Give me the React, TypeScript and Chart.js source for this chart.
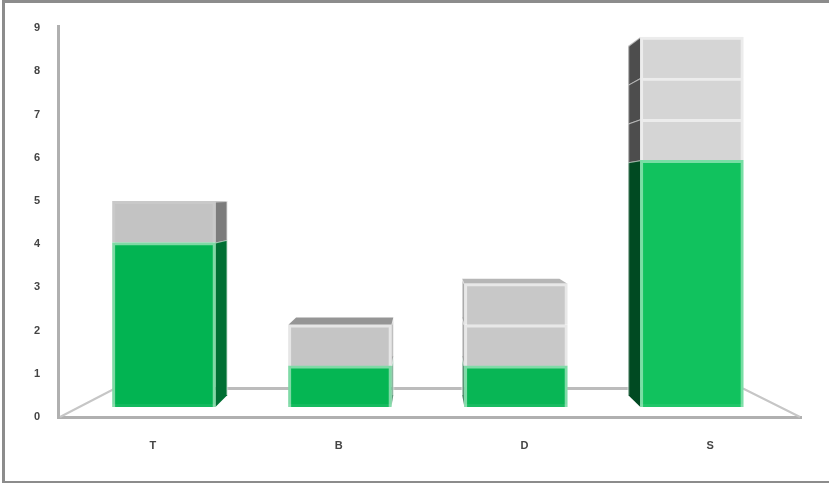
import React, { useEffect, useRef } from "react";
import { Chart, registerables } from "chart.js";

Chart.register(...registerables);

const categories = ["T", "B", "D", "S"];
const yTickValues = [0, 1, 2, 3, 4, 5, 6, 7, 8, 9];

// Stacked units per category: one green block, then up to three grey blocks.
const greenValues = [4, 1, 1, 6];
const greyLayer1 = [1, 1, 1, 1];
const greyLayer2 = [null, null, 1, 1];
const greyLayer3 = [null, null, null, 1];

const greenFront = ["#02b452", "#05b653", "#08b655", "#11c25e"];
const greenEdge = ["#7fd9a5", "#7fdaa6", "#80dba8", "#78dea4"];
const greenSide = ["#006f33", "#5f9c7c", "#4f8c6c", "#004a22"];
const greyFront = ["#c3c3c3", "#c5c5c5", "#c8c8c8", "#d5d5d5"];
const greyEdge = ["#c9c9c9", "#e6e6e6", "#e8e8e8", "#ececec"];
const greySide = ["#7c7c7c", "#a8a8a8", "#a4a4a4", "#4d4d4d"];
const greyTop = ["#a0a0a0", "#959595", "#b6b6b6", "#bbbbbb"];

// Perspective: every box edge recedes towards one vanishing point.
const VANISH_X = 425;
const VANISH_Y = 195;
const DEPTH = 0.056;

const recede = (x: number, y: number): [number, number] => [
  x + (VANISH_X - x) * DEPTH,
  y + (VANISH_Y - y) * DEPTH,
];

const polygon = (ctx: CanvasRenderingContext2D, pts: [number, number][], fill: string) => {
  ctx.beginPath();
  pts.forEach(([x, y], i) => (i ? ctx.lineTo(x, y) : ctx.moveTo(x, y)));
  ctx.closePath();
  ctx.fillStyle = fill;
  ctx.fill();
};

const stroke = (ctx: CanvasRenderingContext2D, a: [number, number], b: [number, number], color: string, width: number) => {
  ctx.beginPath();
  ctx.moveTo(a[0], a[1]);
  ctx.lineTo(b[0], b[1]);
  ctx.strokeStyle = color;
  ctx.lineWidth = width;
  ctx.stroke();
};

const boxes3d = {
  id: "boxes3d",
  beforeDatasetsDraw(chart: any) {
    const { ctx, chartArea } = chart;
    ctx.save();

    // Floor outline behind the columns
    const floorLeft = chartArea.left + 1;
    const floorRight = chartArea.right - 1;
    const floorBack = chartArea.bottom - 28.5;
    stroke(ctx, [floorLeft + 1, chartArea.bottom], [floorLeft + 56, floorBack], "#c6c6c6", 2);
    stroke(ctx, [floorRight, chartArea.bottom], [floorRight - 57, floorBack], "#c6c6c6", 2);
    stroke(ctx, [floorLeft + 56, floorBack], [floorRight - 57, floorBack], "#bcbcbc", 3);

    const { datasets } = chart.data;
    const hasValue = (d: number, j: number) => d < datasets.length && datasets[d].data[j].y !== null;
    datasets.forEach((_: any, d: number) => {
      chart.getDatasetMeta(d).data.forEach((bar: any, j: number) => {
        if (!hasValue(d, j)) return;
        const { x, y, base, width } = bar.getProps(["x", "y", "base", "width"], true);
        const left = x - width / 2;
        const right = x + width / 2;
        const edge = x < VANISH_X ? right : left;
        const isGreen = d === 0;
        const frontTop: [number, number] = [edge, y];
        const frontBottom: [number, number] = [edge, base];
        const backTop = recede(edge, y);
        const backBottom = recede(edge, base);

        polygon(ctx, [frontTop, backTop, backBottom, frontBottom], (isGreen ? greenSide : greySide)[j]);
        stroke(ctx, backTop, backBottom, "rgba(255,255,255,0.4)", 2);
        stroke(ctx, frontTop, backTop, "rgba(255,255,255,0.6)", 2);

        // The closing top face only shows on the tallest block of a stack
        if (!hasValue(d + 1, j) && y > VANISH_Y) {
          polygon(ctx, [[left, y], [right, y], recede(right, y), recede(left, y)], greyTop[j]);
        }
      });
    });
    ctx.restore();
  },
  afterDatasetsDraw(chart: any) {
    const { ctx } = chart;
    ctx.save();
    ctx.fillStyle = "rgba(255,255,255,0.07)";
    chart.getDatasetMeta(0).data.forEach((bar: any) => {
      const { x, base, width } = bar.getProps(["x", "base", "width"], true);
      ctx.fillRect(x - width / 2, base - 3, width, 3);
    });
    ctx.restore();
  },
};

const toPoints = (values: (number | null)[]) => values.map((y, x) => ({ x, y }));

const segment = (values: (number | null)[], fill: string[], edge: string[]) => ({
  data: toPoints(values),
  backgroundColor: fill,
  borderColor: edge,
  borderWidth: { left: 3, right: 3, top: 3, bottom: 0 },
  borderSkipped: false,
  barThickness: 103,
  xAxisID: "xBars",
  yAxisID: "yBars",
  stack: "column",
});

export default function App() {
  const canvasRef = useRef<HTMLCanvasElement>(null);

  useEffect(() => {
    document.body.style.margin = "0";
    const tickFont = { family: "'Liberation Sans', sans-serif", size: 11, weight: "bold" as const };
    const chart = new Chart(canvasRef.current!, {
      type: "bar",
      data: {
        labels: categories,
        datasets: [
          segment(greenValues, greenFront, greenEdge),
          segment(greyLayer1, greyFront, greyEdge),
          segment(greyLayer2, greyFront, greyEdge),
          segment(greyLayer3, greyFront, greyEdge),
        ] as any,
      },
      plugins: [boxes3d],
      options: {
        animation: false,
        responsive: false,
        layout: { padding: { top: 26, right: 28, left: 0, bottom: 0 } },
        plugins: { legend: { display: false }, tooltip: { enabled: false } },
        scales: {
          // Printed axes on the back wall and the front floor edge
          x: {
            type: "category",
            labels: categories,
            position: "bottom",
            grid: { display: false, drawTicks: false },
            border: { display: true, color: "#b0b0b0", width: 3 },
            ticks: { color: "#444444", font: tickFont, padding: 22, labelOffset: 2, maxRotation: 0 },
            afterFit: (scale: any) => { scale.height = 66; },
          },
          y: {
            type: "linear",
            position: "left",
            min: 0,
            max: 9.05,
            grid: { display: false, drawTicks: false },
            border: { display: true, color: "#b0b0b0", width: 3 },
            afterBuildTicks: (scale: any) => { scale.ticks = yTickValues.map((value) => ({ value })); },
            ticks: { color: "#444444", font: tickFont, padding: 18 },
            afterFit: (scale: any) => { scale.width = 58; },
          },
          // Columns stand on a plane closer to the viewer, with their own scale
          xBars: { type: "linear", axis: "x", display: false, stacked: true, offset: false, min: -0.602, max: 3.62 },
          yBars: { type: "linear", axis: "y", display: false, stacked: true, min: -0.243, max: 9.267 },
        } as any,
      },
    });
    return () => chart.destroy();
  }, []);

  return (
    <div style={{ position: "fixed", left: 0, top: 0, width: 829, height: 483, background: "#ffffff", overflow: "hidden" }}>
      <div
        style={{
          position: "absolute",
          left: 2,
          top: 0,
          right: 0,
          bottom: 0,
          borderLeft: "3px solid #8c8c8c",
          borderTop: "3px solid #8c8c8c",
          borderBottom: "2px solid #8c8c8c",
        }}
      />
      <canvas ref={canvasRef} width={829} height={483} style={{ position: "absolute", left: 0, top: 0 }} />
    </div>
  );
}
